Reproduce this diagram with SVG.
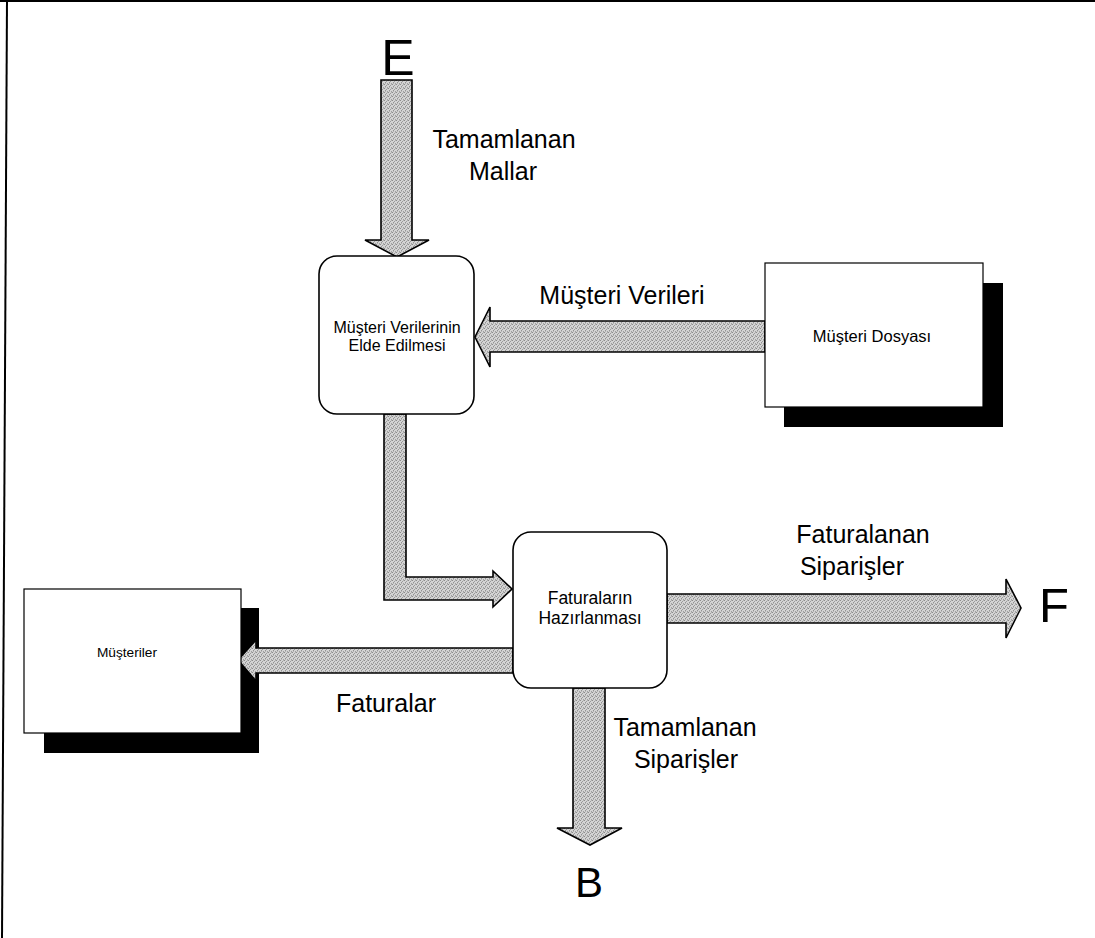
<svg xmlns="http://www.w3.org/2000/svg" width="1095" height="938" viewBox="0 0 1095 938">
  <defs>
    <!-- stippled grey fill used by the flow arrows -->
    <pattern id="stipple" width="4" height="4" patternUnits="userSpaceOnUse">
      <rect width="4" height="4" fill="#d4d4d4"/>
      <rect x="0" y="0" width="1" height="1" fill="#8c8c8c"/>
      <rect x="2" y="1" width="1" height="1" fill="#9a9a9a"/>
      <rect x="1" y="2" width="1" height="1" fill="#939393"/>
      <rect x="3" y="3" width="1" height="1" fill="#a0a0a0"/>
      <rect x="3" y="0" width="1" height="1" fill="#b0b0b0"/>
      <rect x="1" y="3" width="1" height="1" fill="#b4b4b4"/>
    </pattern>
    <style>
      .flow { fill: url(#stipple); stroke: #000; stroke-width: 1.6; stroke-linejoin: miter; }
      .proc { fill: #fff; stroke: #000; stroke-width: 1.6; }
      .store { fill: #fff; stroke: #000; stroke-width: 1.2; }
      .shadow { fill: #000; }
      text { font-family: "Liberation Sans", Arial, sans-serif; fill: #000; text-anchor: middle; }
      .lbl { font-size: 25px; }
      .node { font-size: 16px; }
      .term { font-size: 50px; }
    </style>
  </defs>

  <rect width="1095" height="938" fill="#fff"/>
  <!-- page frame -->
  <line x1="0" y1="1" x2="1095" y2="1" stroke="#000" stroke-width="2"/>
  <line x1="7" y1="0" x2="2" y2="938" stroke="#000" stroke-width="2"/>

  <!-- external shadows behind the data stores -->
  <rect class="shadow" x="784" y="283" width="219" height="144"/>
  <rect class="shadow" x="44" y="608" width="215" height="145"/>

  <g id="connectors">
    <!-- E: Tamamlanan Mallar -->
    <polygon class="flow" points="381,80 412,80 412,240 429,240 397,257 365,240 381,240"/>
    <!-- Müşteri Verileri -->
    <polygon class="flow" points="765,321 490,321 490,307 475,337 490,367 490,352 765,352"/>
    <!-- elbow: first process to second process -->
    <polygon class="flow" points="384,414 406,414 406,577 493,577 493,571 512,589 493,607 493,600 384,600"/>
    <!-- F: Faturalanan Siparişler -->
    <polygon class="flow" points="667,594 1006,594 1006,579 1021,608 1006,638 1006,623 667,623"/>
    <!-- Faturalar -->
    <polygon class="flow" points="513,648 256,648 256,640 238,660 256,681 256,673 513,673"/>
    <!-- B: Tamamlanan Siparişler -->
    <polygon class="flow" points="573,688 605,688 605,828 622,828 590,845 557,828 573,828"/>

    <text class="term" x="398" y="75">E</text>
    <text class="lbl" x="504" y="148">Tamamlanan</text>
    <text class="lbl" x="503" y="180">Mallar</text>
    <text class="lbl" x="622" y="304">Müşteri Verileri</text>
    <text class="lbl" x="863" y="543">Faturalanan</text>
    <text class="lbl" x="852" y="575">Siparişler</text>
    <text class="term" x="1054" y="622" style="font-size:49px">F</text>
    <text class="lbl" x="386" y="712">Faturalar</text>
    <text class="lbl" x="685" y="736">Tamamlanan</text>
    <text class="lbl" x="686" y="768">Siparişler</text>
    <text class="term" x="589" y="897" style="font-size:42px">B</text>
  </g>

  <g id="musteri-verilerinin-elde-edilmesi">
    <rect class="proc" x="319" y="256" width="155" height="158" rx="18"/>
    <text class="node" x="397" y="333">Müşteri Verilerinin</text>
    <text class="node" x="397" y="351">Elde Edilmesi</text>
  </g>

  <g id="musteri-dosyasi">
    <rect class="store" x="765" y="263" width="218" height="144"/>
    <text class="node" x="872" y="342" style="font-size:16.5px">Müşteri Dosyası</text>
  </g>

  <g id="faturalarin-hazirlanmasi">
    <rect class="proc" x="513" y="532" width="154" height="156" rx="18"/>
    <text class="node" x="590" y="604" style="font-size:17.5px">Faturaların</text>
    <text class="node" x="590" y="624" style="font-size:17.5px">Hazırlanması</text>
  </g>

  <g id="musteriler">
    <rect class="store" x="24" y="589" width="217" height="144"/>
    <text class="node" x="127" y="657" style="font-size:13.7px">Müşteriler</text>
  </g>
</svg>
